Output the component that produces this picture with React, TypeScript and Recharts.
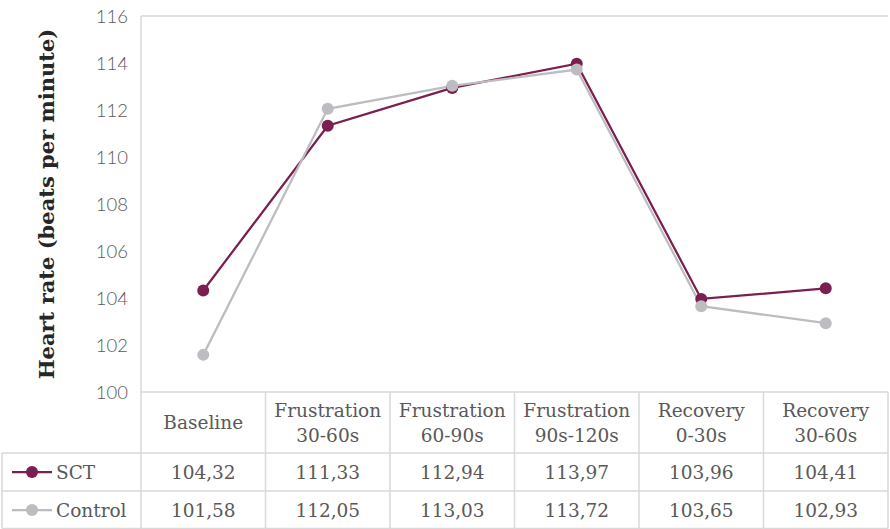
import { LineChart, Line, XAxis, YAxis, ReferenceLine } from 'recharts';

// heart rate per phase
const phases = [
  ['Baseline'],
  ['Frustration', '30-60s'],
  ['Frustration', '60-90s'],
  ['Frustration', '90s-120s'],
  ['Recovery', '0-30s'],
  ['Recovery', '30-60s'],
];
const sct = [104.32, 111.33, 112.94, 113.97, 103.96, 104.41];
const control = [101.58, 112.05, 113.03, 113.72, 103.65, 102.93];
const yTicks = [100, 102, 104, 106, 108, 110, 112, 114, 116];

const SCT_COLOR = '#7a1f4f';
const CONTROL_COLOR = '#bdbdc1';
const GRID = '#d9d9d9';
const TEXT = '#595959';
const SLAB = '"DejaVu Serif", serif';
const FS = 18.5;

const data = phases.map((p, i) => ({
  name: p.join(' '),
  sct: sct[i],
  control: control[i],
}));

const fmt = (v: number) => v.toFixed(2).replace('.', ',');

// table geometry (rows below the plot)
const HALF = 62.25;
const ROW_HEAD = 61;
const ROW = 38;

function TableTick(props: any) {
  const { x, y, payload } = props;
  const i = payload.index;
  const lines = phases[i];
  const yHead = y + ROW_HEAD;
  const ySct = yHead + ROW;
  const yCtl = ySct + ROW - 0.5;
  const l = x - HALF;
  const r = x + HALF;
  const txt = { textAnchor: 'middle' as const, fontSize: FS, fill: TEXT, fontFamily: SLAB };
  return (
    <g>
      {lines.length === 1 ? (
        <text x={x} y={y + 37} {...txt}>
          {lines[0]}
        </text>
      ) : (
        <text {...txt}>
          <tspan x={x} y={y + 25}>{lines[0]}</tspan>
          <tspan x={x} y={y + 50}>{lines[1]}</tspan>
        </text>
      )}
      <text x={x} y={yHead + 26} {...txt}>
        {fmt(sct[i])}
      </text>
      <text x={x} y={ySct + 26} {...txt}>
        {fmt(control[i])}
      </text>
      <line x1={r} y1={y} x2={r} y2={yCtl} stroke={GRID} strokeWidth={1.5} />
      <line x1={l} y1={yHead} x2={r} y2={yHead} stroke={GRID} strokeWidth={1.5} />
      <line x1={l} y1={ySct} x2={r} y2={ySct} stroke={GRID} strokeWidth={1.5} />
      <line x1={l} y1={yCtl} x2={r} y2={yCtl} stroke={GRID} strokeWidth={1.5} />
      {i === 0 && (
        <g>
          <line x1={l} y1={y} x2={l} y2={yCtl} stroke={GRID} strokeWidth={1.5} />
          <line x1={2} y1={yHead} x2={l} y2={yHead} stroke={GRID} strokeWidth={1.5} />
          <line x1={2} y1={ySct} x2={l} y2={ySct} stroke={GRID} strokeWidth={1.5} />
          <line x1={2} y1={yCtl} x2={l} y2={yCtl} stroke={GRID} strokeWidth={1.5} />
          <line x1={2} y1={yHead} x2={2} y2={yCtl} stroke={GRID} strokeWidth={1.5} />
          <line x1={12} y1={yHead + 19} x2={52} y2={yHead + 19} stroke={SCT_COLOR} strokeWidth={2.25} />
          <circle cx={32} cy={yHead + 19} r={6} fill={SCT_COLOR} />
          <text x={56} y={yHead + 26} fontSize={FS} fill={TEXT} fontFamily={SLAB}>SCT</text>
          <line x1={12} y1={ySct + 19} x2={52} y2={ySct + 19} stroke={CONTROL_COLOR} strokeWidth={2.25} />
          <circle cx={32} cy={ySct + 19} r={6} fill={CONTROL_COLOR} />
          <text x={56} y={ySct + 26} fontSize={FS} fill={TEXT} fontFamily={SLAB}>Control</text>
        </g>
      )}
    </g>
  );
}

export default function App() {
  return (
    <div style={{ position: 'absolute', left: 0, top: 0, width: 890, height: 529, background: '#fff' }}>
      <LineChart width={890} height={529} data={data} margin={{ top: 16, right: 2, left: 0, bottom: 0 }}>
        <ReferenceLine y={116} stroke={GRID} strokeWidth={1.5} />
        <XAxis
          dataKey="name"
          height={137}
          padding={{ left: HALF, right: HALF }}
          axisLine={{ stroke: GRID, strokeWidth: 1.5 }}
          tickLine={false}
          tickSize={0}
          tickMargin={0}
          interval={0}
          tick={<TableTick />}
        />
        <YAxis
          width={141}
          domain={[100, 116]}
          ticks={yTicks}
          interval={0}
          axisLine={{ stroke: GRID, strokeWidth: 1.5 }}
          tickLine={false}
          tickSize={0}
          tickMargin={13}
          tick={{ fill: TEXT, fontSize: 18.5, fontFamily: 'Lato', fontWeight: 300 }}
          label={{
            value: 'Heart rate (beats per minute)',
            angle: -90,
            position: 'insideLeft',
            offset: 47,
            style: { fill: '#262626', fontSize: 21, fontWeight: 'bold', fontFamily: SLAB, textAnchor: 'middle' },
          }}
        />
        <Line
          dataKey="sct"
          stroke={SCT_COLOR}
          strokeWidth={2.25}
          dot={{ r: 6, fill: SCT_COLOR, stroke: SCT_COLOR, strokeWidth: 0 }}
          activeDot={false}
          isAnimationActive={false}
        />
        <Line
          dataKey="control"
          stroke={CONTROL_COLOR}
          strokeWidth={2.25}
          dot={{ r: 6, fill: CONTROL_COLOR, stroke: CONTROL_COLOR, strokeWidth: 0 }}
          activeDot={false}
          isAnimationActive={false}
        />
      </LineChart>
    </div>
  );
}
